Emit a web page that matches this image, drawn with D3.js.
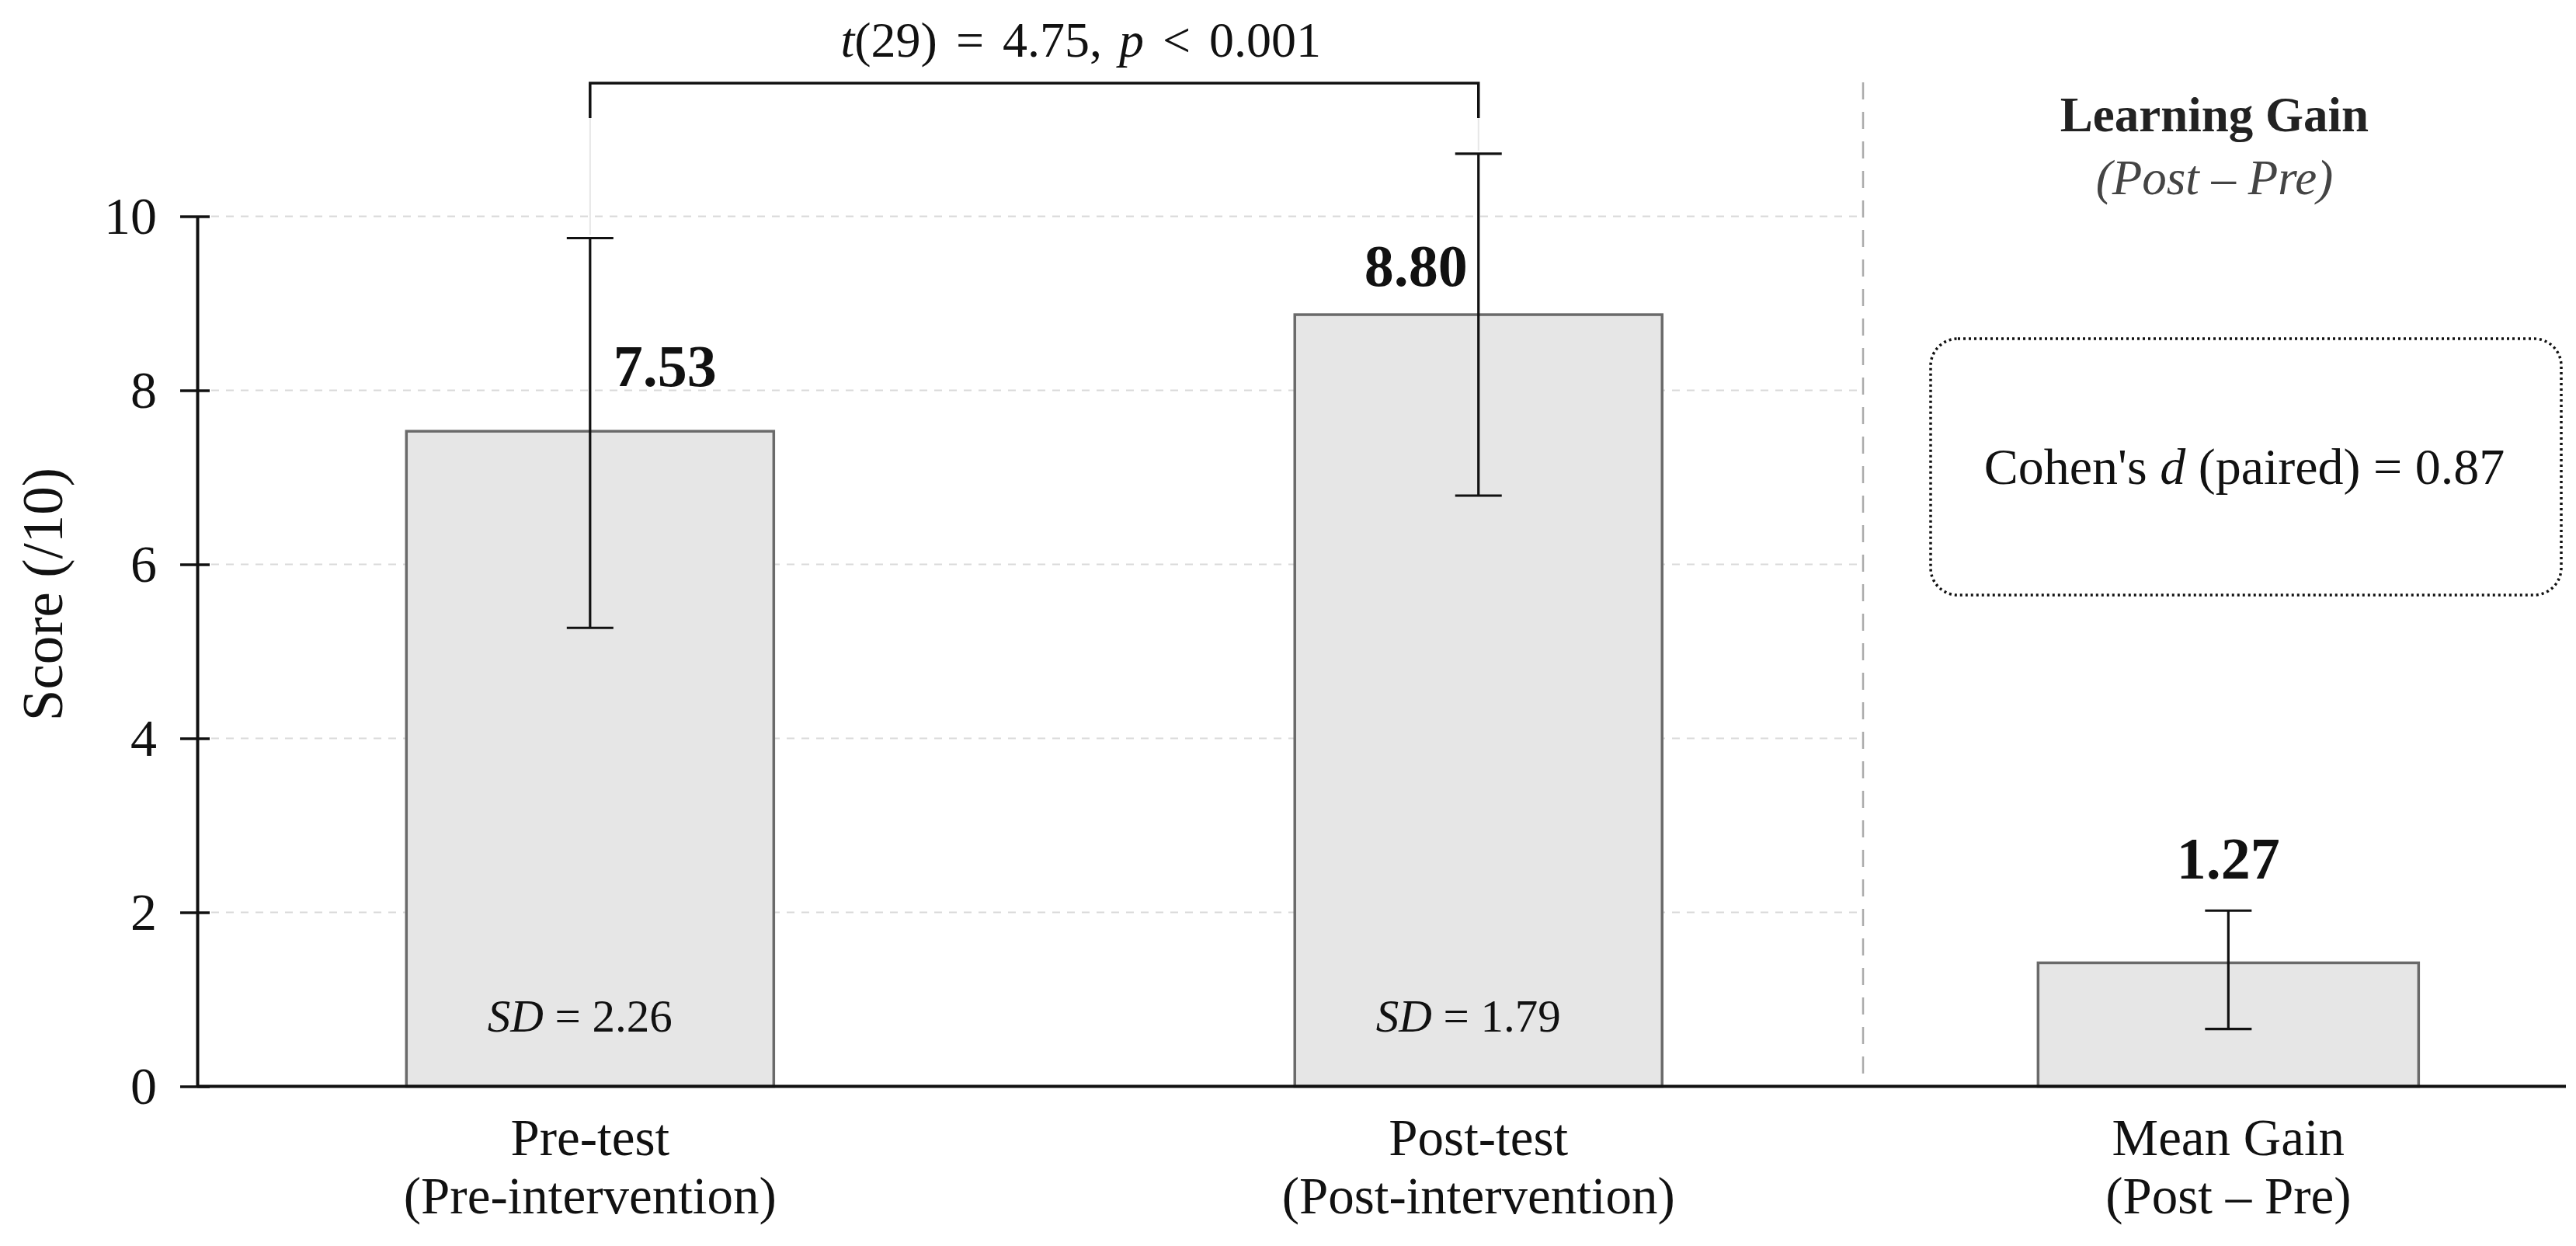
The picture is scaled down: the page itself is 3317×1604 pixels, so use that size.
<!DOCTYPE html>
<html>
<head>
<meta charset="utf-8" />
<title>Pre / post test scores</title>
<script src="https://cdn.jsdelivr.net/npm/d3@7"></script>
<style>
  body { margin: 0; background: #fff; }
  svg { display: block; font-family: 'Liberation Serif', 'Times New Roman', serif; }
</style>
</head>
<body>
<svg id="chart" width="3317" height="1604"></svg>
<script>
// data
const categories = ['Pre-test', 'Post-test', 'Mean Gain'];
const subLabels = ['(Pre-intervention)', '(Post-intervention)', '(Post \u2013 Pre)'];
const barValues = [7.53, 8.87, 1.42];
const valueLabels = ['7.53', '8.80', '1.27'];
const errLow = [5.27, 6.79, 0.66];
const errHigh = [9.75, 10.72, 2.02];
const sdLabels = ['2.26', '1.79', null];
const yTicks = [0, 2, 4, 6, 8, 10];
const gridTicks = [2, 4, 6, 8, 10];
const testStat = { t: '(29) = 4.75,', p: '< 0.001' };
const cohenD = '0.87';

const svg = d3.select('#chart');
const ink = '#111';

const y = d3.scaleLinear().domain([0, 10]).range([1398.5, 278.5]);

// two panels: pre/post on the left, gain on the right
const xLeft = d3.scaleBand().domain(categories.slice(0, 2))
  .range([254, 2399]).paddingInner(0.5865).paddingOuter(0.2308).align(0.51);
const xRight = d3.scaleBand().domain(categories.slice(2))
  .range([2399, 3304]).paddingInner(0).paddingOuter(0.4235).align(0.543);
const scaleOf = (c) => (xLeft.domain().includes(c) ? xLeft : xRight);
const cx = (c) => scaleOf(c)(c) + scaleOf(c).bandwidth() / 2;

const rows = categories.map((c, i) => ({
  cat: c, sub: subLabels[i], v: barValues[i], label: valueLabels[i],
  lo: errLow[i], hi: errHigh[i], sd: sdLabels[i], i: i
}));

// grid (left panel only)
svg.append('g').selectAll('line').data(gridTicks).enter().append('line')
  .attr('x1', 272).attr('x2', xLeft.range()[1])
  .attr('y1', (d) => y(d)).attr('y2', (d) => y(d))
  .attr('stroke', '#d9d9d9').attr('stroke-width', 2).attr('stroke-dasharray', '10,9');

// panel divider
svg.append('line')
  .attr('x1', xRight.range()[0]).attr('x2', xRight.range()[0])
  .attr('y1', 106).attr('y2', y(0))
  .attr('stroke', '#ababab').attr('stroke-width', 2.5).attr('stroke-dasharray', '22,16');

// bars
svg.append('g').selectAll('rect').data(rows).enter().append('rect')
  .attr('x', (d) => scaleOf(d.cat)(d.cat))
  .attr('y', (d) => y(d.v))
  .attr('width', (d) => scaleOf(d.cat).bandwidth())
  .attr('height', (d) => y(0) - y(d.v))
  .attr('fill', '#e6e6e6').attr('stroke', '#6a6a6a').attr('stroke-width', 3.5);

// x baseline
svg.append('line')
  .attr('x1', 254).attr('x2', xRight.range()[1])
  .attr('y1', y(0)).attr('y2', y(0))
  .attr('stroke', ink).attr('stroke-width', 4);

// y axis
const gy = svg.append('g').attr('transform', 'translate(254,0)')
  .call(d3.axisLeft(y).tickValues(yTicks).tickFormat(d3.format('d')).tickSizeOuter(0));
gy.attr('font-family', null).attr('font-size', 68);
gy.select('.domain').attr('stroke', ink).attr('stroke-width', 4);
gy.selectAll('.tick line').attr('x1', 16).attr('x2', -22).attr('stroke', ink).attr('stroke-width', 3.5);
gy.selectAll('.tick text').attr('x', -52).attr('fill', ink);

svg.append('text')
  .attr('transform', 'translate(80,765) rotate(-90)')
  .attr('text-anchor', 'middle').attr('font-size', 73).attr('fill', ink)
  .text('Score (/10)');

// error bars
const eb = svg.append('g').attr('stroke', ink).attr('stroke-width', 3.2);
rows.forEach((d) => {
  const x = cx(d.cat);
  eb.append('line').attr('x1', x).attr('x2', x).attr('y1', y(d.lo)).attr('y2', y(d.hi));
  [d.lo, d.hi].forEach((v) => {
    eb.append('line').attr('x1', x - 30).attr('x2', x + 30).attr('y1', y(v)).attr('y2', y(v));
  });
});

// value labels
const valuePos = [
  (d) => ({ x: cx(d.cat) + 30, y: y(d.v) - 58, anchor: 'start' }),
  (d) => ({ x: cx(d.cat) - 14, y: y(d.v) - 37, anchor: 'end' }),
  (d) => ({ x: cx(d.cat), y: y(d.hi) - 41, anchor: 'middle' })
];
rows.forEach((d) => {
  const p = valuePos[d.i](d);
  svg.append('text').attr('x', p.x).attr('y', p.y).attr('text-anchor', p.anchor)
    .attr('font-size', 76).attr('font-weight', 'bold').attr('fill', ink).text(d.label);
});

// SD inside bars
rows.filter((d) => d.sd).forEach((d) => {
  const t = svg.append('text').attr('x', cx(d.cat) - 13).attr('y', 1328)
    .attr('text-anchor', 'middle').attr('font-size', 59).attr('fill', ink);
  t.append('tspan').attr('font-style', 'italic').text('SD');
  t.append('tspan').text(' = ' + d.sd);
});

// category labels
const xl = svg.append('g').attr('text-anchor', 'middle').attr('font-size', 67).attr('fill', ink);
rows.forEach((d) => {
  xl.append('text').attr('x', cx(d.cat)).attr('y', 1487).text(d.cat);
  xl.append('text').attr('x', cx(d.cat)).attr('y', 1562).text(d.sub);
});

// significance bracket
const bx1 = cx(categories[0]), bx2 = cx(categories[1]);
svg.append('path')
  .attr('d', `M${bx1},152V107H${bx2}V152`)
  .attr('fill', 'none').attr('stroke', ink).attr('stroke-width', 3.5);
[0, 1].forEach((i) => {
  svg.append('line').attr('x1', cx(categories[i])).attr('x2', cx(categories[i]))
    .attr('y1', 152).attr('y2', y(errHigh[i]) - 4)
    .attr('stroke', '#e6e6e6').attr('stroke-width', 2);
});
const st = svg.append('text').attr('x', (bx1 + bx2) / 2 + 60).attr('y', 73)
  .attr('text-anchor', 'middle').attr('font-size', 64).attr('word-spacing', 8).attr('fill', ink);
st.append('tspan').attr('font-style', 'italic').text('t');
st.append('tspan').text(testStat.t);
st.append('tspan').attr('dx', 22).attr('font-style', 'italic').text('p');
st.append('tspan').text(' ' + testStat.p);

// right panel header
const rc = (xRight.range()[0] + xRight.range()[1]) / 2;
svg.append('text').attr('x', rc).attr('y', 169).attr('text-anchor', 'middle')
  .attr('font-size', 63).attr('font-weight', 'bold').attr('fill', '#222').text('Learning Gain');
svg.append('text').attr('x', rc).attr('y', 250).attr('text-anchor', 'middle')
  .attr('font-size', 63).attr('font-style', 'italic').attr('fill', '#444').text('(Post \u2013 Pre)');

// effect size box
svg.append('rect').attr('x', 2486).attr('y', 436).attr('width', 812).attr('height', 330)
  .attr('rx', 35).attr('fill', 'none').attr('stroke', ink)
  .attr('stroke-width', 3.5).attr('stroke-dasharray', '3,4');
const ct = svg.append('text').attr('x', 2890).attr('y', 623).attr('text-anchor', 'middle')
  .attr('font-size', 66).attr('fill', ink);
ct.append('tspan').text("Cohen's ");
ct.append('tspan').attr('font-style', 'italic').text('d');
ct.append('tspan').text(' (paired) = ' + cohenD);
</script>
</body>
</html>
